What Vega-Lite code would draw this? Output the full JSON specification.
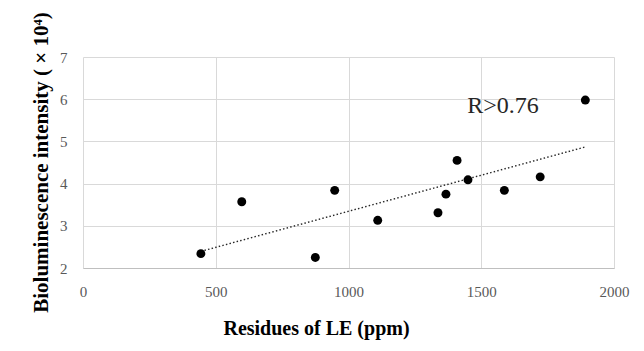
{
  "$schema": "https://vega.github.io/schema/vega-lite/v6.json",
  "autosize": "none",
  "width": 531,
  "height": 211,
  "padding": {"left": 83, "top": 57, "right": 30, "bottom": 83},
  "background": "white",
  "config": {
    "view": {"stroke": null},
    "font": "Liberation Serif",
    "axis": {
      "ticks": false,
      "gridColor": "#d9d9d9",
      "gridWidth": 1,
      "labelFont": "Liberation Serif",
      "labelFontSize": 15,
      "labelColor": "#595959",
      "titleFont": "Liberation Serif",
      "titleFontSize": 20,
      "titleFontWeight": "bold",
      "titleColor": "#000000"
    }
  },
  "datasets": {
    "pts": [
      {"le": 444, "bio": 2.34},
      {"le": 598, "bio": 3.57},
      {"le": 875, "bio": 2.25},
      {"le": 948, "bio": 3.84},
      {"le": 1110, "bio": 3.13},
      {"le": 1337, "bio": 3.31},
      {"le": 1367, "bio": 3.75},
      {"le": 1409, "bio": 4.55},
      {"le": 1450, "bio": 4.09},
      {"le": 1587, "bio": 3.84},
      {"le": 1722, "bio": 4.16},
      {"le": 1892, "bio": 5.98}
    ],
    "note": [
      {"le": 1582, "bio": 5.85, "label": "R>0.76"}
    ]
  },
  "layer": [
    {
      "data": {"name": "pts"},
      "transform": [{"regression": "bio", "on": "le"}],
      "mark": {"type": "line", "color": "#262626", "strokeWidth": 1.4, "strokeDash": [1.5, 2.2]},
      "encoding": {
        "x": {
          "field": "le", "type": "quantitative",
          "scale": {"domain": [0, 2000], "nice": false, "zero": false},
          "axis": {
            "title": "Residues of LE (ppm)",
            "values": [0, 500, 1000, 1500, 2000],
            "format": "d",
            "domainColor": "#bfbfbf",
            "domainWidth": 1,
            "labelPadding": 28,
            "labelBaseline": "alphabetic",
            "labelFlush": false,
            "titleX": 233,
            "titleY": 66,
            "titleBaseline": "alphabetic",
            "titleAnchor": "middle",
            "titleAlign": "center"
          }
        },
        "y": {
          "field": "bio", "type": "quantitative",
          "scale": {"domain": [2, 7], "nice": false, "zero": false},
          "axis": {
            "title": "Bioluminescence intensity ( × 10⁴)",
            "titleFontSize": 21,
            "values": [2, 3, 4, 5, 6, 7],
            "format": "d",
            "domain": false,
            "labelPadding": 16,
            "labelFlush": false,
            "titleX": -36,
            "titleY": 105,
            "titleBaseline": "alphabetic",
            "titleAngle": -90,
            "titleAlign": "center"
          }
        }
      }
    },
    {
      "data": {"name": "pts"},
      "mark": {"type": "point", "filled": true, "color": "#000000", "opacity": 1, "size": 80},
      "encoding": {
        "x": {"field": "le", "type": "quantitative"},
        "y": {"field": "bio", "type": "quantitative"}
      }
    },
    {
      "data": {"name": "note"},
      "mark": {"type": "text", "font": "Liberation Serif", "fontSize": 24, "color": "#262626", "align": "center", "baseline": "middle"},
      "encoding": {
        "x": {"field": "le", "type": "quantitative"},
        "y": {"field": "bio", "type": "quantitative"},
        "text": {"field": "label"}
      }
    }
  ]
}
